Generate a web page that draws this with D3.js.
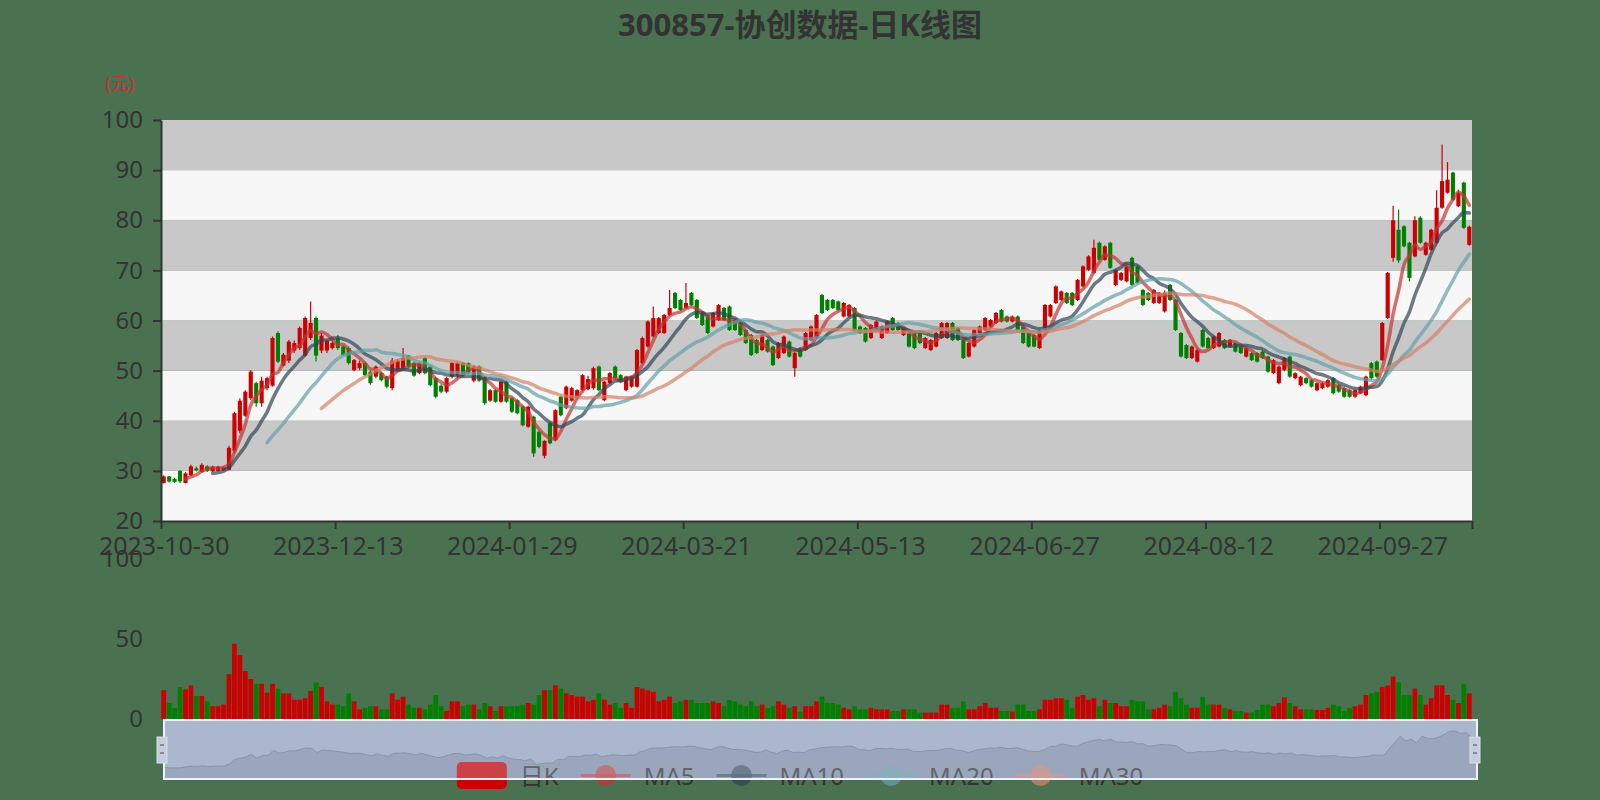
<!DOCTYPE html>
<html><head><meta charset="utf-8">
<script src="https://cdn.jsdelivr.net/npm/d3@7"></script>
<style>
html,body{margin:0;padding:0;background:#4a7250;}
svg{display:block;}
text{font-family:"Noto Sans","Noto Sans CJK SC",sans-serif;}
</style>
</head><body>
<svg id="c" width="1600" height="800"></svg>
<script>
const titleText = "300857-协创数据-日K线图";
const yUnit = "(元)";
const legendNames = ["日K","MA5","MA10","MA20","MA30"];
const maPeriods = [5,10,20,30];
const maColors = ["#c23531","#2f4554","#61a0a8","#d48265"];
const priceTicks = [20,30,40,50,60,70,80,90,100];
const volTicks = [0,50,100];
const labelEvery = 32;

const dates = (
"2023-10-30 2023-10-31 " +
"2023-11-01 2023-11-02 2023-11-03 2023-11-06 2023-11-07 2023-11-08 2023-11-09 2023-11-10 2023-11-13 2023-11-14 2023-11-15 2023-11-16 2023-11-17 2023-11-20 2023-11-21 2023-11-22 2023-11-23 2023-11-24 2023-11-27 2023-11-28 2023-11-29 2023-11-30 " +
"2023-12-01 2023-12-04 2023-12-05 2023-12-06 2023-12-07 2023-12-08 2023-12-11 2023-12-12 2023-12-13 2023-12-14 2023-12-15 2023-12-18 2023-12-19 2023-12-20 2023-12-21 2023-12-22 2023-12-25 2023-12-26 2023-12-27 2023-12-28 2023-12-29 " +
"2024-01-02 2024-01-03 2024-01-04 2024-01-05 2024-01-08 2024-01-09 2024-01-10 2024-01-11 2024-01-12 2024-01-15 2024-01-16 2024-01-17 2024-01-18 2024-01-19 2024-01-22 2024-01-23 2024-01-24 2024-01-25 2024-01-26 2024-01-29 2024-01-30 2024-01-31 " +
"2024-02-01 2024-02-02 2024-02-05 2024-02-06 2024-02-07 2024-02-08 2024-02-19 2024-02-20 2024-02-21 2024-02-22 2024-02-23 2024-02-26 2024-02-27 2024-02-28 2024-02-29 " +
"2024-03-01 2024-03-04 2024-03-05 2024-03-06 2024-03-07 2024-03-08 2024-03-11 2024-03-12 2024-03-13 2024-03-14 2024-03-15 2024-03-18 2024-03-19 2024-03-20 2024-03-21 2024-03-22 2024-03-25 2024-03-26 2024-03-27 2024-03-28 2024-03-29 " +
"2024-04-01 2024-04-02 2024-04-03 2024-04-08 2024-04-09 2024-04-10 2024-04-11 2024-04-12 2024-04-15 2024-04-16 2024-04-17 2024-04-18 2024-04-19 2024-04-22 2024-04-23 2024-04-24 2024-04-25 2024-04-26 2024-04-29 2024-04-30 " +
"2024-05-06 2024-05-07 2024-05-08 2024-05-09 2024-05-10 2024-05-13 2024-05-14 2024-05-15 2024-05-16 2024-05-17 2024-05-20 2024-05-21 2024-05-22 2024-05-23 2024-05-24 2024-05-27 2024-05-28 2024-05-29 2024-05-30 2024-05-31 " +
"2024-06-03 2024-06-04 2024-06-05 2024-06-06 2024-06-07 2024-06-11 2024-06-12 2024-06-13 2024-06-14 2024-06-17 2024-06-18 2024-06-19 2024-06-20 2024-06-21 2024-06-24 2024-06-25 2024-06-26 2024-06-27 2024-06-28 " +
"2024-07-01 2024-07-02 2024-07-03 2024-07-04 2024-07-05 2024-07-08 2024-07-09 2024-07-10 2024-07-11 2024-07-12 2024-07-15 2024-07-16 2024-07-17 2024-07-18 2024-07-19 2024-07-22 2024-07-23 2024-07-24 2024-07-25 2024-07-26 2024-07-29 2024-07-30 2024-07-31 " +
"2024-08-01 2024-08-02 2024-08-05 2024-08-06 2024-08-07 2024-08-08 2024-08-09 2024-08-12 2024-08-13 2024-08-14 2024-08-15 2024-08-16 2024-08-19 2024-08-20 2024-08-21 2024-08-22 2024-08-23 2024-08-26 2024-08-27 2024-08-28 2024-08-29 2024-08-30 " +
"2024-09-02 2024-09-03 2024-09-04 2024-09-05 2024-09-06 2024-09-09 2024-09-10 2024-09-11 2024-09-12 2024-09-13 2024-09-18 2024-09-19 2024-09-20 2024-09-23 2024-09-24 2024-09-25 2024-09-26 2024-09-27 2024-09-30 " +
"2024-10-08 2024-10-09 2024-10-10 2024-10-11 2024-10-14 2024-10-15 2024-10-16 2024-10-17 2024-10-18 2024-10-21 2024-10-22 2024-10-23 2024-10-24 2024-10-25 2024-10-28"
).split(" ");

const openP = [
27.6,28.9,28.4,30.0,27.6,29.1,30.5,29.8,30.9,29.9,
30.0,30.1,30.2,34.0,38.0,41.0,44.5,47.5,43.5,46.5,
47.0,57.5,51.0,52.0,54.0,54.5,53.0,56.5,60.5,54.0,
54.0,54.5,56.5,54.8,54.5,50.1,50.5,51.5,49.8,48.8,
49.5,48.8,46.5,50.1,50.5,53.0,51.5,49.5,52.5,50.8,
48.5,47.0,45.8,48.8,49.0,51.5,51.5,48.0,50.8,48.8,
44.0,46.1,43.8,47.8,44.5,44.1,42.8,38.8,40.8,37.8,
33.0,39.5,36.1,44.8,42.5,44.0,44.5,46.1,46.3,46.5,
50.8,44.1,47.5,50.8,49.1,46.1,46.8,46.8,51.5,54.8,
56.8,57.5,57.5,61.1,65.5,64.1,62.5,65.5,64.1,61.5,
60.8,58.8,60.1,62.5,62.8,60.1,59.5,58.1,57.1,56.1,
54.1,56.1,54.8,52.5,53.5,55.8,50.5,54.5,54.1,56.1,
56.5,65.1,64.1,64.1,63.8,60.8,60.8,62.5,58.8,58.5,
56.5,58.1,56.5,57.5,60.5,59.5,57.1,57.5,57.5,57.5,
54.5,54.1,54.8,56.5,56.5,59.5,58.5,56.1,52.8,54.8,
57.5,58.1,58.8,59.5,62.1,60.8,59.8,60.8,58.8,57.5,
57.1,54.5,58.1,60.8,63.5,64.1,65.5,65.5,64.1,66.8,
70.1,69.5,75.5,72.1,75.5,67.1,68.1,67.8,72.5,70.8,
66.1,65.5,63.5,63.5,61.8,67.1,64.1,57.5,55.1,52.5,
51.8,58.1,56.5,54.5,54.8,56.1,54.8,55.5,54.8,52.8,
53.5,53.5,53.8,52.8,49.5,47.5,50.1,52.8,48.5,47.1,
48.5,48.1,46.1,46.5,46.8,48.5,47.1,46.5,46.1,44.8,
45.5,45.1,51.5,51.8,52.1,60.5,72.5,78.1,78.8,75.5,
72.8,80.5,73.1,74.1,75.5,82.5,85.5,89.5,82.8,87.5,
75.1];

const closeP = [
28.9,27.9,27.8,27.9,29.5,30.9,30.1,31.2,30.0,30.8,
30.8,30.7,34.6,41.5,44.0,45.8,49.8,43.5,48.0,48.5,
56.5,51.8,53.2,55.8,55.5,58.5,60.5,59.5,53.0,57.0,
56.0,55.5,54.5,53.1,51.5,52.1,51.5,49.1,47.5,50.8,
48.1,46.8,52.0,52.0,52.5,50.8,49.0,51.5,49.5,47.1,
44.8,45.8,48.5,51.5,51.5,49.0,49.5,50.8,48.0,43.5,
46.1,43.8,47.8,43.8,41.8,41.5,39.1,42.8,33.5,34.8,
36.0,35.5,42.1,41.1,46.8,46.5,46.1,49.1,48.3,50.5,
46.1,47.8,49.5,48.5,47.8,48.8,48.8,54.1,56.5,59.8,
60.5,60.5,61.1,62.5,62.5,62.1,63.5,63.1,60.5,59.1,
57.5,61.5,63.1,60.1,58.1,58.1,57.1,55.5,53.1,53.5,
57.1,53.8,51.1,55.5,56.8,52.8,53.5,52.8,57.5,58.8,
61.1,61.5,62.1,62.5,62.1,63.5,63.1,58.1,57.5,55.8,
59.1,59.8,58.8,59.8,58.1,58.1,58.5,54.8,54.5,55.5,
56.5,56.1,57.5,59.5,59.5,56.1,56.1,52.5,55.5,58.1,
58.8,60.5,60.1,61.5,59.8,59.8,60.8,58.1,55.5,54.8,
54.8,58.1,63.1,63.1,66.8,65.8,63.5,63.1,68.1,70.8,
72.8,74.5,72.1,74.8,70.5,70.1,69.5,70.8,67.1,67.5,
63.1,64.1,66.1,65.5,65.5,64.1,58.1,52.8,52.5,54.8,
54.1,54.8,54.5,56.8,57.5,54.5,56.1,53.8,53.5,54.5,
52.1,51.8,52.5,49.8,52.1,50.8,52.5,48.8,49.5,48.8,
47.5,46.8,47.5,47.5,48.1,45.5,45.8,44.8,44.8,46.1,
46.8,48.8,48.5,48.8,59.5,69.5,80.0,72.0,74.8,68.5,
80.0,75.5,75.5,78.1,82.5,87.8,88.1,84.1,85.5,78.5,
78.7];

const highP = [
29.1,29.0,28.6,30.1,29.8,31.2,30.8,31.5,31.1,31.0,
31.0,30.9,35.0,41.8,44.5,46.1,50.1,47.8,48.8,48.8,
56.8,57.8,53.5,56.1,56.0,58.8,60.8,63.8,60.8,57.5,
56.1,56.0,57.1,55.0,54.8,52.3,52.0,51.8,50.0,51.0,
49.8,49.0,52.5,52.3,54.5,53.1,51.8,51.7,52.7,51.0,
48.7,47.3,48.7,51.7,51.8,51.7,51.6,51.0,51.0,49.0,
46.3,46.3,48.0,48.0,44.7,44.3,43.0,43.0,41.0,38.0,
36.1,39.7,42.3,45.0,47.0,46.8,46.3,49.3,49.0,50.8,
51.0,48.0,49.7,51.0,49.3,49.0,49.0,54.3,56.8,60.0,
62.8,60.7,61.3,66.1,65.7,64.3,67.5,65.7,64.3,61.7,
61.0,61.7,63.3,62.7,63.0,60.3,59.7,58.3,57.3,56.3,
57.3,56.3,55.0,55.7,57.0,56.0,53.7,54.7,57.7,59.0,
61.3,65.3,64.3,64.3,64.0,63.7,63.3,62.7,59.0,58.7,
59.3,60.0,59.0,60.0,60.7,59.7,58.7,57.7,57.7,57.7,
56.7,56.3,57.7,59.7,59.7,59.7,58.7,56.3,55.7,58.3,
59.0,60.7,60.3,61.7,62.3,61.0,61.0,61.0,59.0,57.7,
57.3,58.3,63.3,63.3,67.0,66.0,65.7,65.7,68.3,71.0,
73.0,76.1,75.7,75.0,75.7,70.3,69.7,71.0,72.7,71.0,
66.3,65.7,66.3,65.7,66.0,67.3,64.3,57.7,55.3,55.0,
54.3,58.3,56.7,57.0,57.7,56.3,56.3,55.7,55.0,54.7,
53.7,53.7,54.0,53.0,52.3,51.0,52.7,53.0,49.7,49.0,
48.7,48.3,47.7,47.7,48.3,48.7,47.3,46.7,46.3,46.3,
47.0,49.0,51.7,52.0,59.7,69.7,82.9,82.1,79.0,75.7,
80.8,80.8,75.7,78.3,86.0,95.1,91.6,89.7,86.1,87.7,
78.9];

const lowP = [
27.5,27.7,27.6,27.6,27.5,29.0,29.9,29.7,29.8,29.8,
29.9,30.0,30.1,33.5,37.5,40.8,44.1,42.8,42.8,46.1,
46.8,51.5,50.8,51.5,53.5,54.1,52.8,56.1,51.8,53.5,
53.5,54.2,54.1,53.0,51.2,49.9,50.1,48.9,47.2,48.5,
47.9,46.5,46.1,49.9,50.1,50.5,48.8,49.3,49.3,46.9,
44.5,45.5,45.5,48.5,48.5,48.8,49.3,47.7,47.8,43.2,
43.8,43.6,43.6,43.6,41.6,41.3,38.9,38.6,32.8,34.5,
32.5,35.3,35.9,40.9,42.3,43.8,44.3,45.9,46.1,46.2,
45.9,43.9,47.3,48.3,47.6,45.9,46.6,46.6,51.3,54.6,
56.6,57.3,57.3,60.9,62.3,61.9,62.3,62.9,60.3,58.9,
57.3,58.6,59.9,59.9,57.9,57.9,56.9,55.3,52.9,53.3,
53.9,53.6,50.9,52.3,53.3,52.6,48.8,52.6,53.9,55.9,
56.3,61.3,61.9,62.3,61.9,60.6,60.6,57.9,57.3,55.6,
56.3,57.9,56.3,57.3,57.9,57.9,56.9,54.6,54.3,55.3,
54.3,53.9,54.6,56.3,56.3,55.9,55.9,52.3,52.6,54.6,
57.3,57.9,58.6,59.3,59.6,59.6,59.6,57.9,55.3,54.6,
54.6,54.3,57.9,60.6,63.3,63.9,63.3,62.9,63.9,66.6,
69.9,69.3,71.9,71.9,70.3,66.9,67.9,67.6,66.9,67.3,
62.9,63.9,63.3,63.3,61.6,63.9,57.9,52.6,52.3,52.3,
51.6,54.6,54.3,54.3,54.6,54.3,54.6,53.6,53.3,52.6,
51.9,51.6,52.3,49.6,49.3,47.3,49.9,48.6,48.3,46.9,
47.3,46.6,45.9,46.3,46.6,45.3,45.6,44.6,44.6,44.6,
45.3,44.9,48.3,48.6,51.9,60.3,71.7,71.5,74.6,67.8,
72.6,75.3,72.9,73.9,75.3,82.3,85.3,83.9,82.6,78.3,
74.9];

const volume = [
18,10,7,20,18.5,21,14.4,14.4,11,8,8,9,
28,47,40,30,25,22,22,16.5,22,19,16,16,
12,12,13,17.5,23,20,11,9,
9,8,16,11,6,7,8,8,6,6,
16,12,14,9,7,7,6,9,15,8,
5,11,11,8,9,9,6,10,8,5,
8,8,8,8,9,10,9,15,18,18,
21,19,16,15,14,14,11,12,16,12,
9,10,7,10,7,20,19,18,17,11,
12,14,10,11,12,12,10,10,10,11,
10,8,12,11,9,8,11,8,9,7,
8,11,9,7,8,4.5,8,8,11,14,
10,10,9,7,6,8,6,6,7,6,
6,6,5,5,6,6,6,4,4,4,
4,9,9,7,7,11,6,6,8,10,
7,7,5,5,4.6,9,9,5,5,6,
12,12,13,13,12,7,14,15,12,13,
8,12,10,10,8,8,12,11,11,6,
6,7,9,8,17,13,9,7,7,14,
9,9,9,7,6,5,5,4,4,5.6,
9,9,8,10,13.5,10,8,6,6,6,
5.6,5.6,7,9,8,5,7,8,9,15,
16,17,20,21,26.5,23,15,15,19,15,
9,13,21,21,15,12,10,22,16];

// ---------- drawing ----------
const W = 1600, H = 800;
const upColor = "#cc0000", downColor = "#008000";
const textColor = "#333";
const N = dates.length;
const svg = d3.select("#c");

svg.append("rect").attr("width", W).attr("height", H).attr("fill", "#4a7250");

const gl = 161, gr = 1472, gt = 120, gb = 521;
const x = d3.scaleBand().domain(d3.range(N)).range([gl, gr]).paddingInner(0).paddingOuter(0);
const bw = x.bandwidth();
const cx = i => x(i) + bw / 2;
const y = d3.scaleLinear().domain([20, 100]).range([gb, gt]);
const yv = d3.scaleLinear().domain([0, 100]).range([719, 559]);

// title
svg.append("text").attr("x", 800).attr("y", 24)
  .attr("text-anchor", "middle").attr("dominant-baseline", "central")
  .style("font-size", "31px").style("font-weight", "bold").attr("fill", textColor)
  .text(titleText);

// y unit
svg.append("text").attr("x", 120).attr("y", 83)
  .attr("text-anchor", "middle").attr("dominant-baseline", "central")
  .style("font-size", "18px").attr("fill", "#d42a2a").text(yUnit);

// split areas
for (let k = 0; k < priceTicks.length - 1; k++) {
  svg.append("rect")
    .attr("x", gl).attr("width", gr - gl)
    .attr("y", y(priceTicks[k + 1])).attr("height", y(priceTicks[k]) - y(priceTicks[k + 1]))
    .attr("fill", k % 2 === 0 ? "#f7f7f7" : "#c8c8c8");
}

// clip
svg.append("clipPath").attr("id", "gclip").append("rect")
  .attr("x", gl).attr("y", gt).attr("width", gr - gl).attr("height", gb - gt);

// candles
const idx = d3.range(N);
const cg = svg.append("g").attr("clip-path", "url(#gclip)");
const isUp = i => closeP[i] >= openP[i];
const bodyW = bw * 0.76;
cg.selectAll("line.wick").data(idx).join("line").attr("class", "wick")
  .attr("x1", cx).attr("x2", cx)
  .attr("y1", i => y(highP[i])).attr("y2", i => y(lowP[i]))
  .attr("stroke", i => isUp(i) ? upColor : downColor).attr("stroke-width", 1.2);
cg.selectAll("rect.body").data(idx).join("rect").attr("class", "body")
  .attr("x", i => cx(i) - bodyW / 2).attr("width", bodyW)
  .attr("y", i => y(Math.max(openP[i], closeP[i])))
  .attr("height", i => Math.max(1, Math.abs(y(openP[i]) - y(closeP[i]))))
  .attr("fill", i => isUp(i) ? upColor : downColor);

// moving averages
function calcMA(p) {
  return idx.map(i => i < p - 1 ? null : d3.mean(closeP.slice(i - p + 1, i + 1)));
}
maPeriods.forEach((p, k) => {
  const ma = calcMA(p);
  const line = d3.line().defined(i => ma[i] != null)
    .x(cx).y(i => y(ma[i])).curve(d3.curveMonotoneX);
  cg.append("path").attr("d", line(idx)).attr("fill", "none")
    .attr("stroke", maColors[k]).attr("stroke-width", 3.5).attr("stroke-opacity", 0.7)
    .attr("stroke-linejoin", "round").attr("stroke-linecap", "round");
});

// price y axis
const yAxis = svg.append("g").attr("transform", `translate(${gl},0)`)
  .call(d3.axisLeft(y).tickValues(priceTicks).tickSize(8).tickSizeOuter(0).tickPadding(10));
yAxis.select(".domain").attr("stroke", textColor).attr("stroke-width", 2);
yAxis.selectAll(".tick line").attr("stroke", textColor).attr("stroke-width", 2);
yAxis.selectAll("text").attr("fill", textColor).style("font-size", "24px")
  .attr("font-family", null);
yAxis.attr("font-family", null).attr("font-size", null);

// x axis (category)
const xl = d3.scaleLinear().domain([0, N]).range([gl, gr]);
const tickIdx = d3.range(0, N, labelEvery).concat([N]);
const xAxis = svg.append("g").attr("transform", `translate(0,${gb})`)
  .call(d3.axisBottom(xl).tickValues(tickIdx).tickSize(8).tickSizeOuter(0).tickPadding(8)
    .tickFormat(i => i < N ? dates[i] : ""));
xAxis.select(".domain").attr("stroke", textColor).attr("stroke-width", 2);
xAxis.selectAll(".tick line").attr("stroke", textColor).attr("stroke-width", 2);
xAxis.selectAll("text").attr("fill", textColor).style("font-size", "25px").attr("dx", bw / 2);
xAxis.attr("font-family", null).attr("font-size", null);

// volume bars
const volW = bw * 0.88;
svg.append("g").selectAll("rect").data(idx).join("rect")
  .attr("x", i => x(i) + (bw - volW) / 2).attr("width", volW)
  .attr("y", i => yv(volume[i])).attr("height", i => yv(0) - yv(volume[i]))
  .attr("fill", i => isUp(i) ? upColor : downColor);

const vAxis = svg.append("g").attr("transform", `translate(${gl},0)`)
  .call(d3.axisLeft(yv).tickValues(volTicks).tickSize(0).tickPadding(18));
vAxis.select(".domain").remove();
vAxis.selectAll("text").attr("fill", textColor).style("font-size", "24px");
vAxis.attr("font-family", null).attr("font-size", null);

// data zoom slider
const dzL = 164, dzR = 1477, dzT = 720, dzB = 779;
svg.append("rect").attr("x", dzL).attr("y", dzT).attr("width", dzR - dzL).attr("height", dzB - dzT)
  .attr("fill", "rgb(155,170,194)");
const cExt = d3.extent(closeP);
const off = (cExt[1] - cExt[0]) * 0.3;
const xs = d3.scaleLinear().domain([0, N - 1]).range([dzL, dzR]);
const ys = d3.scaleLinear().domain([cExt[0] - off, cExt[1] + off]).range([dzB, dzT]);
svg.append("path").attr("d", d3.area().x(i => xs(i)).y0(dzB).y1(i => ys(closeP[i]))(idx))
  .attr("fill", "rgb(132,145,171)");
svg.append("path").attr("d", d3.line().x(i => xs(i)).y(i => ys(closeP[i]))(idx))
  .attr("fill", "none").attr("stroke", "rgb(105,120,144)").attr("stroke-width", 1);

// legend
const lg = svg.append("g");
const iconW = 50, iconGap = 13, itemGap = 22, ly = 775.5;
let cur = 0;
const items = [];
legendNames.forEach((name, k) => {
  const g = lg.append("g");
  if (k === 0) {
    g.append("rect").attr("x", 0).attr("y", ly - 13.5).attr("width", iconW).attr("height", 27)
      .attr("rx", 5).attr("fill", upColor);
  } else {
    const c = maColors[k - 1];
    g.append("line").attr("x1", 0).attr("x2", iconW).attr("y1", ly).attr("y2", ly)
      .attr("stroke", c).attr("stroke-width", 3).attr("stroke-opacity", 0.75);
    g.append("circle").attr("cx", iconW / 2).attr("cy", ly).attr("r", 10.5)
      .attr("fill", c).attr("fill-opacity", 0.75);
  }
  const t = g.append("text").attr("x", iconW + iconGap).attr("y", ly)
    .attr("dominant-baseline", "central").style("font-size", "24px").attr("fill", textColor).text(name);
  const tw = t.node().getComputedTextLength();
  items.push({ g, w: iconW + iconGap + tw });
});
const total = d3.sum(items, d => d.w) + itemGap * (items.length - 1);
cur = 800 - total / 2;
items.forEach(it => { it.g.attr("transform", `translate(${cur},0)`); cur += it.w + itemGap; });

// slider overlay, border and handles
svg.append("rect").attr("x", dzL).attr("y", dzT).attr("width", dzR - dzL).attr("height", dzB - dzT)
  .attr("fill", "rgb(205,214,230)").attr("fill-opacity", 0.3);
svg.append("rect").attr("x", dzL).attr("y", dzT).attr("width", dzR - dzL).attr("height", dzB - dzT)
  .attr("fill", "none").attr("stroke", "#eef1f6").attr("stroke-width", 2);
[dzL - 2, dzR - 2].forEach(hx => {
  svg.append("rect").attr("x", hx - 5).attr("y", 737).attr("width", 10).attr("height", 26)
    .attr("fill", "#c3cddd").attr("stroke", "#d8dee8").attr("stroke-width", 1);
  [745, 753].forEach(ty => svg.append("line").attr("x1", hx - 2).attr("x2", hx + 2)
    .attr("y1", ty).attr("y2", ty).attr("stroke", "#5a6475").attr("stroke-width", 1.2));
});

// sanity marker when arrays disagree
const lens = [openP.length, closeP.length, highP.length, lowP.length, volume.length];
if (lens.some(l => l !== N)) {
  svg.append("text").attr("x", 10).attr("y", 790).attr("fill", "yellow").style("font-size", "14px")
    .text("LEN " + N + " " + lens.join(","));
}
</script>
</body></html>
